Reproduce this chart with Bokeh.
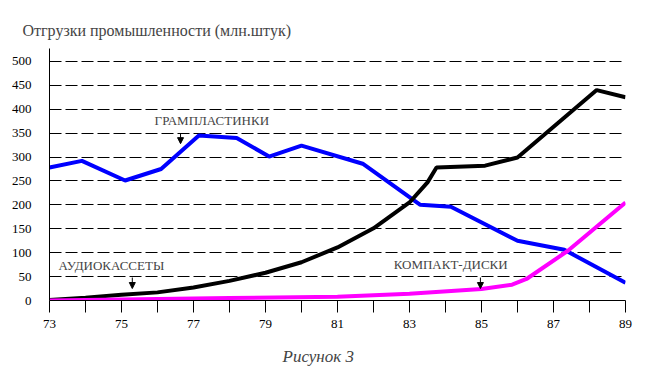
from bokeh.plotting import figure
from bokeh.models import FixedTicker, Range1d, Label, Arrow, NormalHead, Title
from bokeh.embed import file_html
from bokeh.resources import INLINE

# ---- data ----
year_ticks = list(range(73, 90))
x_tick_labels = {y: (str(y) if y % 2 == 1 else "") for y in year_ticks}
y_ticks = list(range(0, 501, 50))

records_years = [73, 73.9, 75.1, 76.1, 77.15, 78.2, 79.1, 80.0, 81.7, 83.3, 84.15, 86.0, 87.3, 89]
records_values = [278, 292, 251, 275, 345, 340, 301, 324, 286, 200, 196, 125, 106, 37]

cassette_years = [73, 74, 75, 76, 77, 78, 79, 80, 81, 82, 83, 83.5, 83.75, 85.1, 86, 88.2, 89]
cassette_values = [1, 6, 12, 17, 27, 41, 58, 80, 111, 151, 205, 247, 278, 282, 299, 440, 425]

cd_years = [73, 75, 78, 81, 83, 85, 85.85, 86.25, 87.4, 89]
cd_values = [0, 2, 5, 8, 14, 24, 33, 45, 104, 205]

title_text = "Отгрузки промышленности (млн.штук)"
caption_text = "Рисунок 3"
series_names = ["ГРАМПЛАСТИНКИ", "АУДИОКАССЕТЫ", "КОМПАКТ-ДИСКИ"]

FONT = "'Liberation Serif', 'Times New Roman', serif"

p = figure(width=650, height=380, output_backend="svg", toolbar_location=None,
           x_range=Range1d(73, 89), y_range=Range1d(0, 527),
           min_border_left=49, min_border_right=25, min_border_top=48, min_border_bottom=80)
p.outline_line_color = None
p.background_fill_color = "white"
p.border_fill_color = "white"

# title
p.title.text = title_text
p.title.text_font = FONT
p.title.text_font_size = "16px"
p.title.text_font_style = "normal"
p.title.align = "left"
p.title.offset = -27
p.title.standoff = 20

p.add_layout(Title(text=caption_text, text_font=FONT, text_font_size="17px",
                   text_font_style="italic", align="left", offset=233, standoff=28), "below")

# axes
xa = p.xaxis[0]
xa.ticker = FixedTicker(ticks=year_ticks)
xa.major_label_overrides = x_tick_labels
xa.major_tick_out = 12
xa.major_tick_in = 0
xa.minor_tick_line_color = None
xa.major_label_standoff = 7
xa.major_label_text_font = FONT
xa.major_label_text_font_size = "13px"
xa.major_label_text_color = "black"
xa.axis_line_color = "black"
xa.major_tick_line_color = "black"

ya = p.yaxis[0]
ya.ticker = FixedTicker(ticks=y_ticks)
ya.major_tick_line_color = None
ya.minor_tick_line_color = None
ya.major_label_standoff = 12
ya.major_label_text_font = FONT
ya.major_label_text_font_size = "13px"
ya.major_label_text_color = "black"
ya.axis_line_color = "black"

p.xgrid.grid_line_color = None
p.ygrid.grid_line_color = "black"
p.ygrid.grid_line_dash = "12 4"
p.ygrid.grid_line_width = 1

# series
p.line(records_years, records_values, line_color="#0000FF", line_width=4)
p.line(cassette_years, cassette_values, line_color="#000000", line_width=4)
p.line(cd_years, cd_values, line_color="#FF00FF", line_width=4)

# annotations
p.add_layout(Label(x=75.92, y=376, text=series_names[0], text_font=FONT,
                   text_font_size="13px", text_baseline="middle", text_align="left"))
p.add_layout(Label(x=73.25, y=73, text=series_names[1], text_font=FONT,
                   text_font_size="13px", text_baseline="middle", text_align="left"))
p.add_layout(Label(x=82.56, y=75, text=series_names[2], text_font=FONT,
                   text_font_size="13px", text_baseline="middle", text_align="left"))

for ax, ay0, ay1 in [(76.64, 350, 328), (75.3, 48, 25), (84.97, 48, 25)]:
    p.add_layout(Arrow(x_start=ax, y_start=ay0, x_end=ax, y_end=ay1, line_width=1,
                       end=NormalHead(size=6, fill_color="black", line_color="black", line_width=1)))

open("out.html", "w").write(file_html(p, INLINE))
